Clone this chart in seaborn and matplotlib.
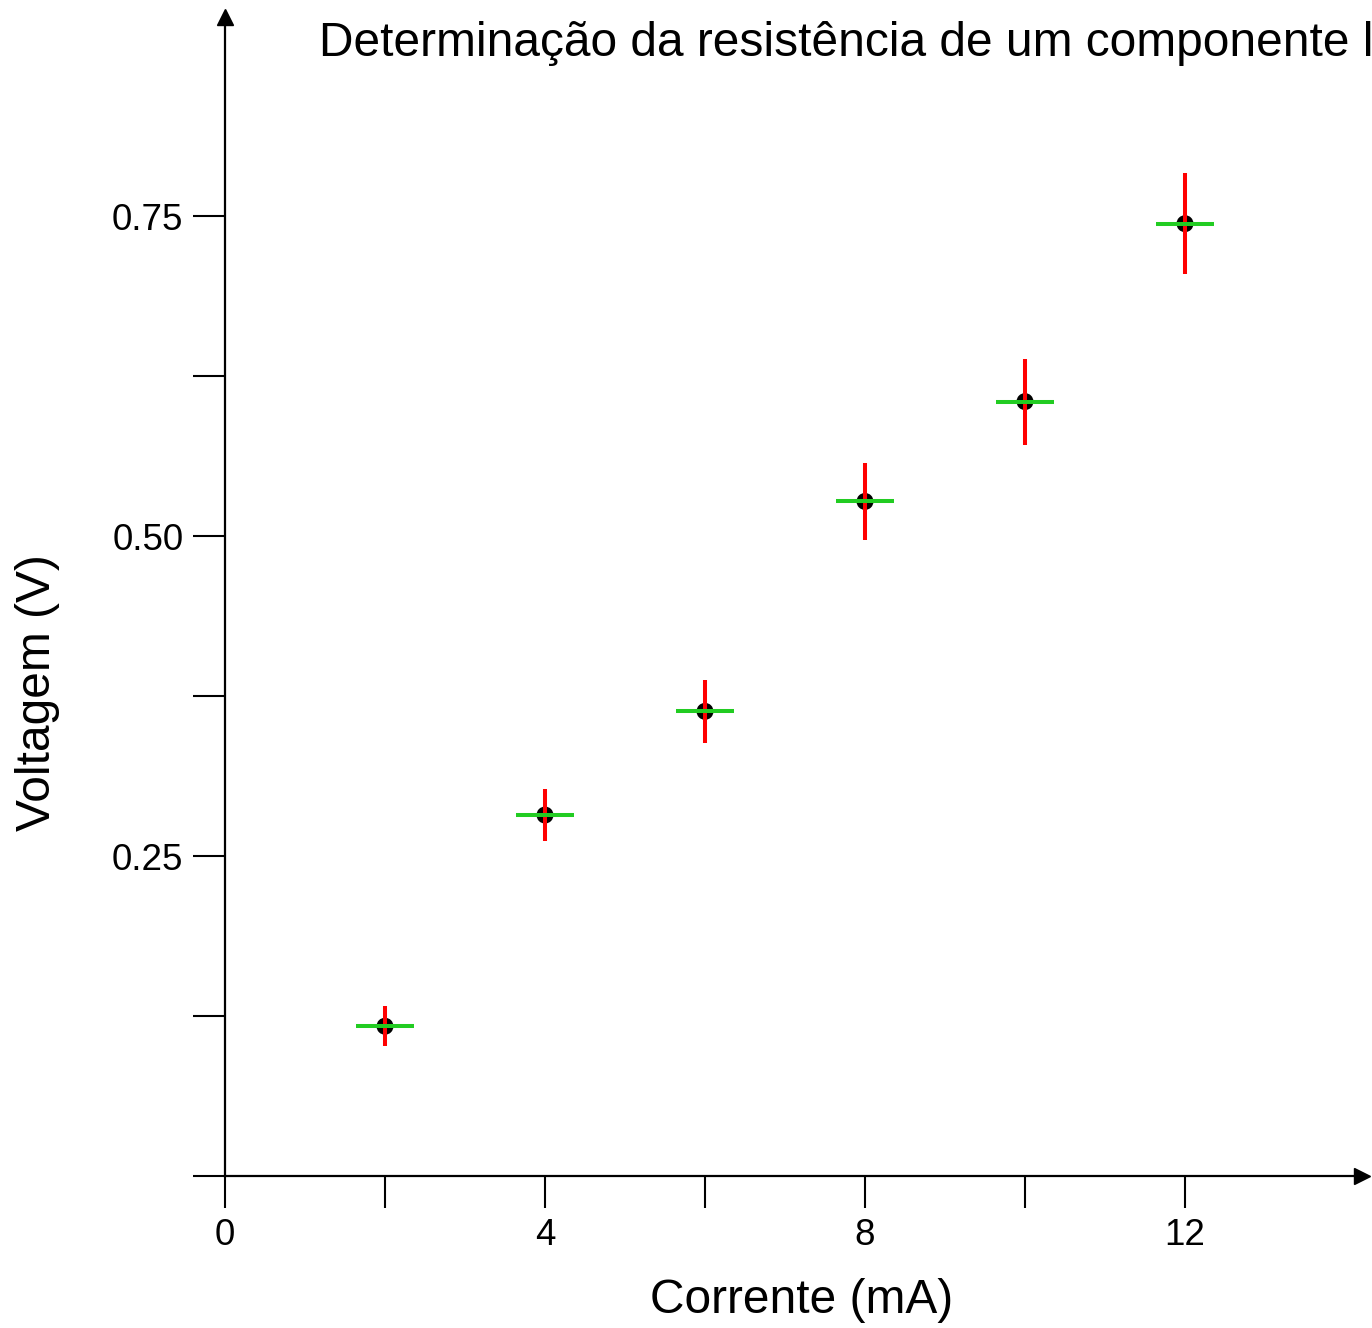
import numpy as np
import pandas as pd
import matplotlib
matplotlib.use("Agg")
import matplotlib.pyplot as plt
import seaborn as sns

sns.set_style("ticks")
plt.rcParams["font.family"] = ["Liberation Sans", "DejaVu Sans"]
plt.rcParams["text.color"] = "black"
plt.rcParams["axes.labelcolor"] = "black"
plt.rcParams["axes.edgecolor"] = "black"

# data
corrente = [2, 4, 6, 8, 10, 12]                      # mA
voltagem = [0.117, 0.282, 0.363, 0.527, 0.605, 0.744]  # V
erro_v = [0.0156, 0.0203, 0.0247, 0.030, 0.0336, 0.0395]
erro_i = [0.36, 0.36, 0.36, 0.36, 0.36, 0.36]

x_ticks = [0, 2, 4, 6, 8, 10, 12]
x_labels = ["0", "", "4", "", "8", "", "12"]
y_ticks = [0, 0.125, 0.25, 0.375, 0.5, 0.625, 0.75]
y_labels = ["", "", "0.25", "", "0.50", "", "0.75"]

df = pd.DataFrame({"I": corrente, "V": voltagem})

W, H = 1372, 1328
fig = plt.figure(figsize=(W / 100, H / 100), dpi=100)
# axes in pixels: x=0 at 225 px, 80 px/mA; y=0 at 1176 px from top, 1280 px/V
left, right, bottom, top = 225, 1362, H - 1176, H - 17
ax = fig.add_axes([left / W, bottom / H, (right - left) / W, (top - bottom) / H])

sns.scatterplot(data=df, x="I", y="V", ax=ax, color="black", s=150,
                edgecolor="none", zorder=3)
ax.errorbar(corrente, voltagem, yerr=erro_v, fmt="none", ecolor="#ff0000",
            elinewidth=2.9, capsize=0, zorder=4)
ax.errorbar(corrente, voltagem, xerr=erro_i, fmt="none", ecolor="#22cc22",
            elinewidth=2.9, capsize=0, zorder=5)

ax.set_xlim(0, (right - left) / 80)
ax.set_ylim(0, (top - bottom) / 1280)

for s in ["top", "right"]:
    ax.spines[s].set_visible(False)
for s in ["left", "bottom"]:
    ax.spines[s].set_linewidth(1.6)
    ax.spines[s].set_color("black")
ax.plot(1, 0, ">k", ms=11, transform=ax.get_yaxis_transform(), clip_on=False)
ax.plot(0, 1, "^k", ms=11, transform=ax.get_xaxis_transform(), clip_on=False)

ax.set_xticks(x_ticks)
ax.set_xticklabels(x_labels)
ax.set_yticks(y_ticks)
ax.set_yticklabels(y_labels)
ax.tick_params(axis="both", length=23, width=1.5, labelsize=26.5, pad=7,
               direction="out", colors="black")

ax.set_xlabel("Corrente (mA)", fontsize=34.5, color="black")
ax.set_ylabel("Voltagem (V)", fontsize=34.5, color="black")
ax.xaxis.set_label_coords(0.507, -0.088)
ax.yaxis.set_label_coords(-0.145, 0.417)

fig.text(319 / W, 1 - 44 / H, "Determinação da resistência de um componente linear",
         fontsize=34.5, ha="left", va="center", color="black")

fig.savefig("out.png", dpi=100)
